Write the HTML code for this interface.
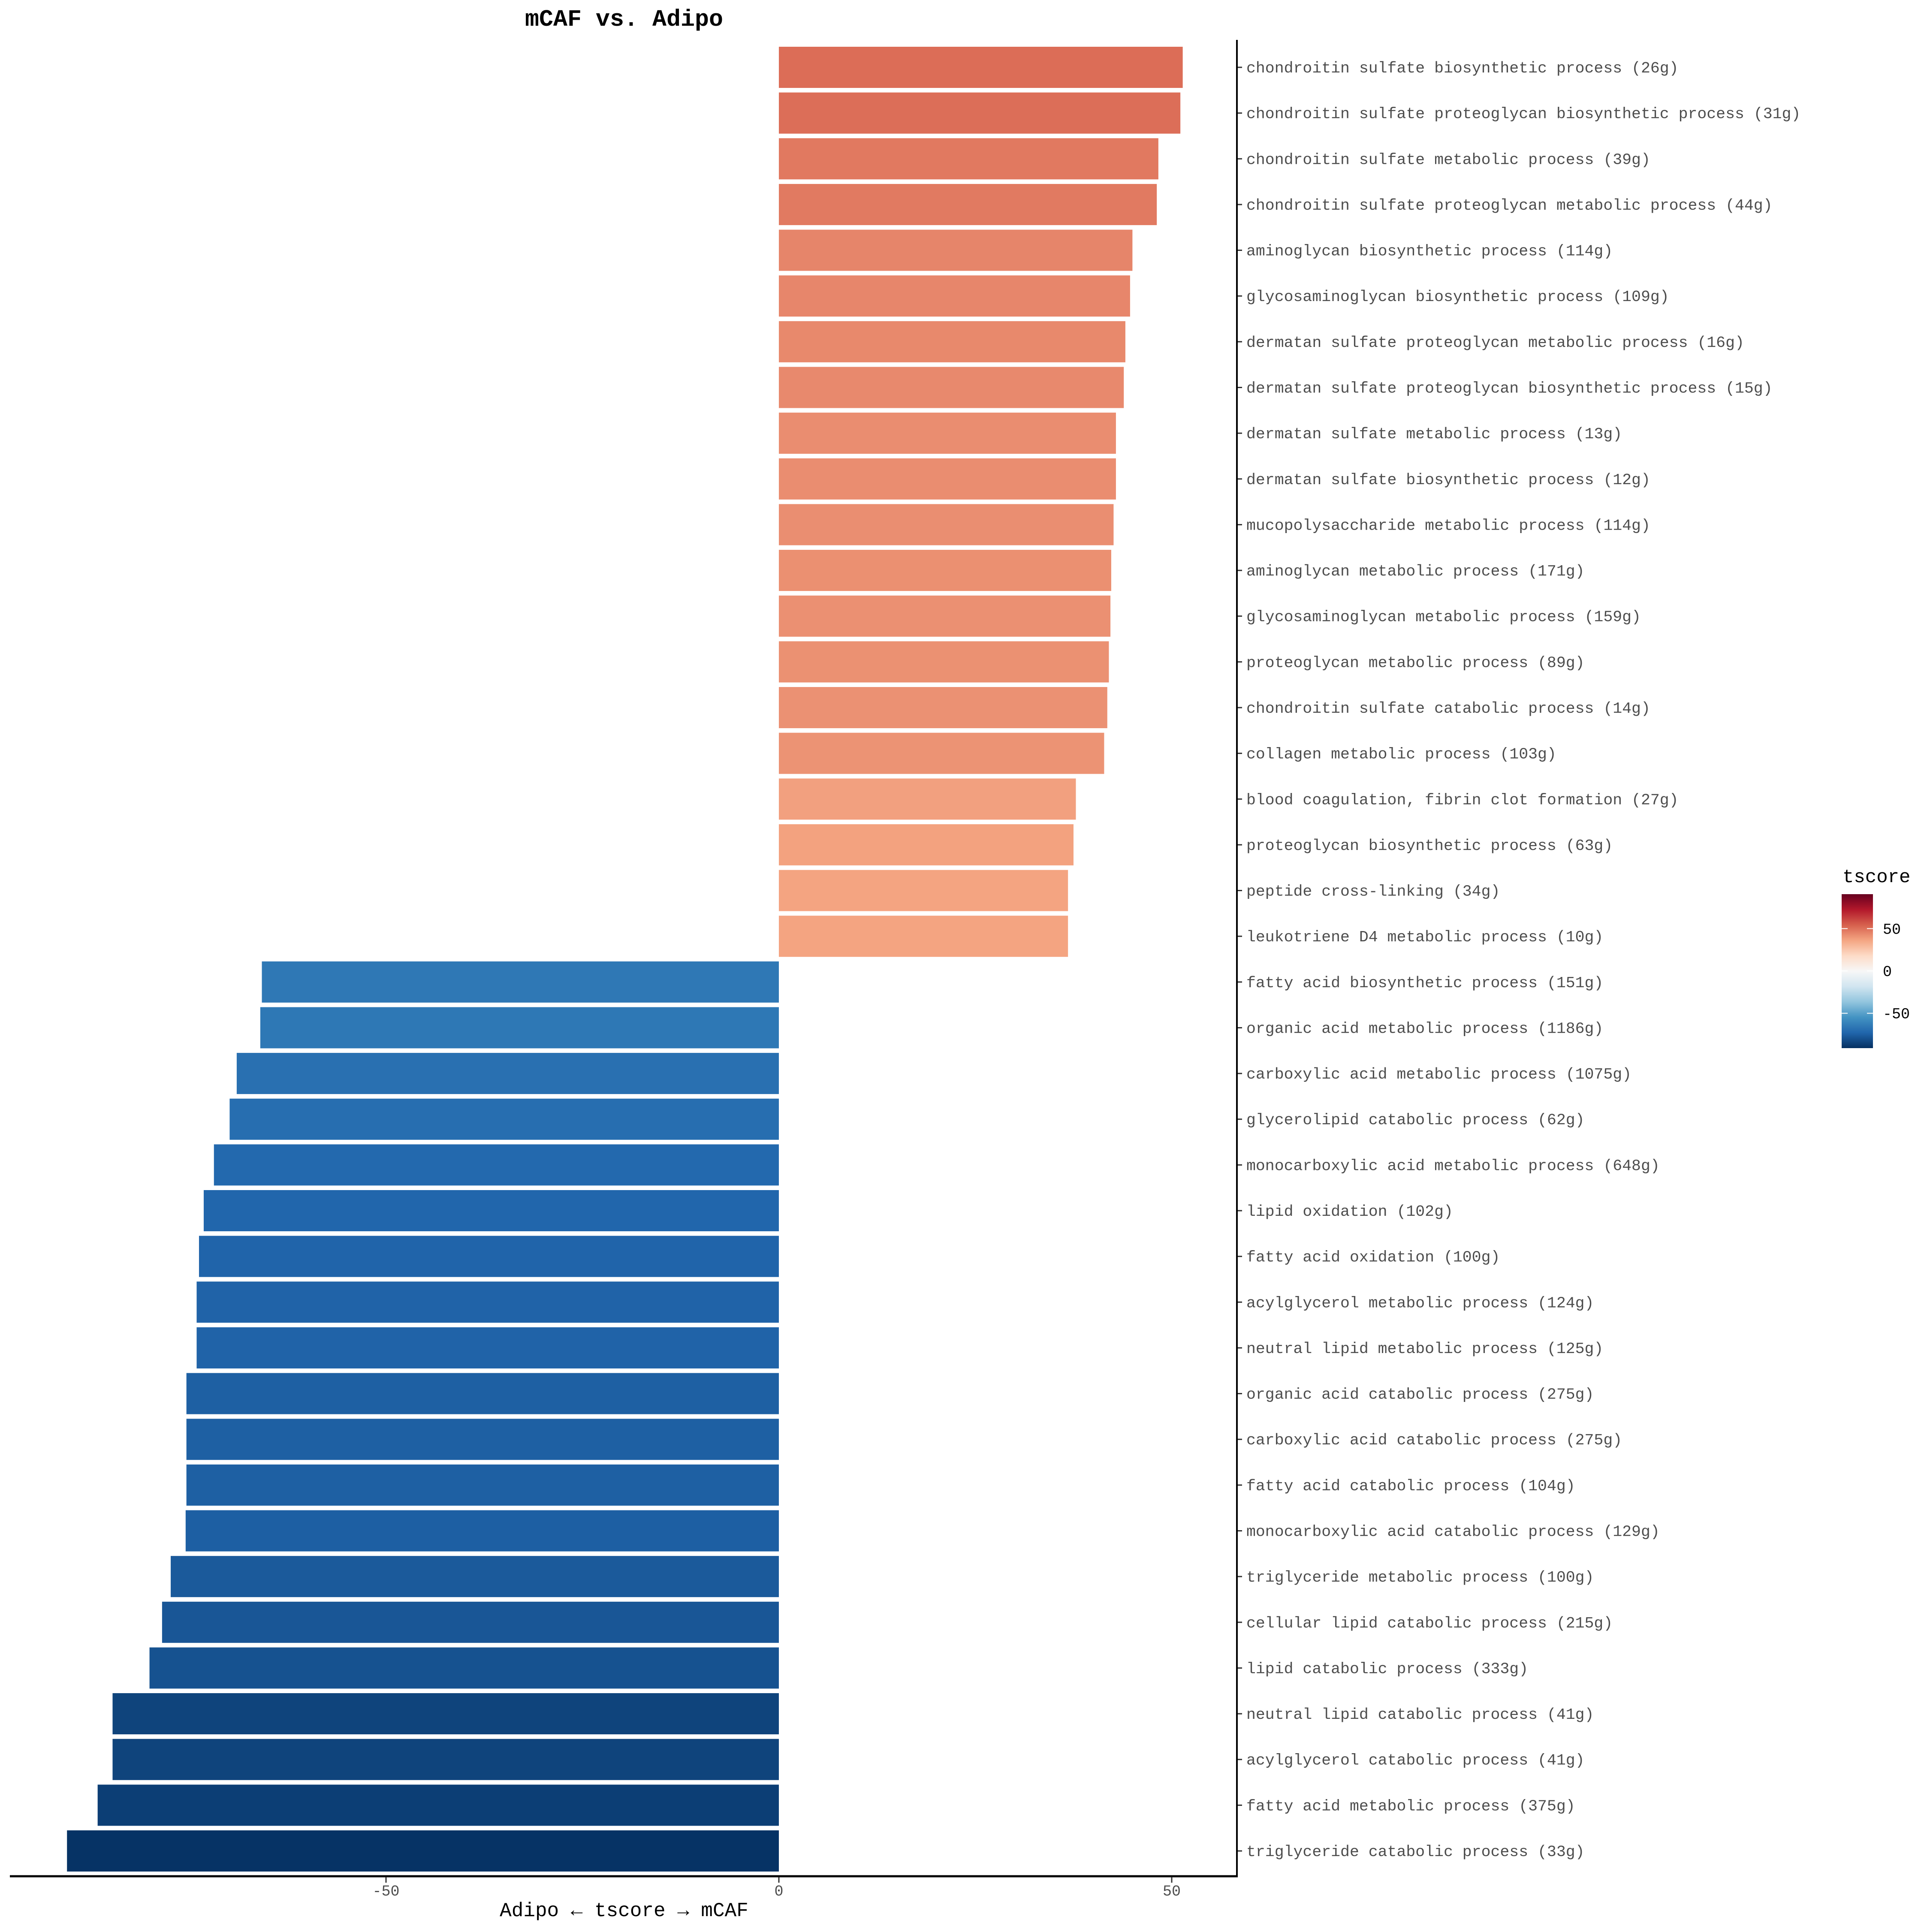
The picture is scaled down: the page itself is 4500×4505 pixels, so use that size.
<!DOCTYPE html>
<html><head><meta charset="utf-8"><style>
html,body{margin:0;padding:0;background:#fff;}
svg text{font-family:"Liberation Mono","DejaVu Sans Mono",monospace;}
</style></head><body>
<svg id="chart" xmlns="http://www.w3.org/2000/svg" width="4500" height="4500" viewBox="0 0 4500 4500">
<defs>
<linearGradient id="cbar" x1="0" y1="1" x2="0" y2="0">
<stop offset="0" stop-color="#053061"/><stop offset="0.1" stop-color="#2166AC"/><stop offset="0.2" stop-color="#4393C3"/><stop offset="0.3" stop-color="#92C5DE"/><stop offset="0.4" stop-color="#D1E5F0"/><stop offset="0.5" stop-color="#F7F7F7"/><stop offset="0.6" stop-color="#FDDBC7"/><stop offset="0.7" stop-color="#F4A582"/><stop offset="0.8" stop-color="#D6604D"/><stop offset="0.9" stop-color="#B2182B"/><stop offset="1" stop-color="#67001F"/>
</linearGradient>
</defs>
<text x="1455" y="60" font-size="55" font-weight="bold" text-anchor="middle" fill="#000">mCAF vs. Adipo</text>
<g id="bars"></g>
<g id="ylabels"></g>
<line x1="2884" y1="93" x2="2884" y2="4377" stroke="#000" stroke-width="4"/>
<line x1="23" y1="4375" x2="2886" y2="4375" stroke="#000" stroke-width="5"/>
<g id="xticks"></g>
<text x="1455" y="4468" font-size="46" text-anchor="middle" fill="#000">Adipo ← tscore → mCAF</text>
<g transform="translate(5,0)">
<text x="4291" y="2057" font-size="44" fill="#000">tscore</text>
<rect x="4289" y="2085" width="73" height="359" fill="url(#cbar)"/>
<g id="legticks"></g>
</g>
</svg>
<script>
const categories = [
"chondroitin sulfate biosynthetic process (26g)",
"chondroitin sulfate proteoglycan biosynthetic process (31g)",
"chondroitin sulfate metabolic process (39g)",
"chondroitin sulfate proteoglycan metabolic process (44g)",
"aminoglycan biosynthetic process (114g)",
"glycosaminoglycan biosynthetic process (109g)",
"dermatan sulfate proteoglycan metabolic process (16g)",
"dermatan sulfate proteoglycan biosynthetic process (15g)",
"dermatan sulfate metabolic process (13g)",
"dermatan sulfate biosynthetic process (12g)",
"mucopolysaccharide metabolic process (114g)",
"aminoglycan metabolic process (171g)",
"glycosaminoglycan metabolic process (159g)",
"proteoglycan metabolic process (89g)",
"chondroitin sulfate catabolic process (14g)",
"collagen metabolic process (103g)",
"blood coagulation, fibrin clot formation (27g)",
"proteoglycan biosynthetic process (63g)",
"peptide cross-linking (34g)",
"leukotriene D4 metabolic process (10g)",
"fatty acid biosynthetic process (151g)",
"organic acid metabolic process (1186g)",
"carboxylic acid metabolic process (1075g)",
"glycerolipid catabolic process (62g)",
"monocarboxylic acid metabolic process (648g)",
"lipid oxidation (102g)",
"fatty acid oxidation (100g)",
"acylglycerol metabolic process (124g)",
"neutral lipid metabolic process (125g)",
"organic acid catabolic process (275g)",
"carboxylic acid catabolic process (275g)",
"fatty acid catabolic process (104g)",
"monocarboxylic acid catabolic process (129g)",
"triglyceride metabolic process (100g)",
"cellular lipid catabolic process (215g)",
"lipid catabolic process (333g)",
"neutral lipid catabolic process (41g)",
"acylglycerol catabolic process (41g)",
"fatty acid metabolic process (375g)",
"triglyceride catabolic process (33g)"
];
const tscores = [51.4,51.1,48.3,48.1,45.0,44.7,44.1,43.9,42.9,42.9,42.6,42.3,42.2,42.0,41.8,41.4,37.8,37.5,36.8,36.8,
-65.8,-66.0,-69.0,-69.9,-71.9,-73.2,-73.8,-74.1,-74.1,-75.4,-75.4,-75.4,-75.5,-77.4,-78.5,-80.1,-84.8,-84.8,-86.7,-90.6];
const xTicks = [-50,0,50];
const legendTicks = [50,0,-50];
const colorLimit = 91.5;

const NS="http://www.w3.org/2000/svg";
const x0=1816, xk=916/50;
function xScale(v){return x0+v*xk;}
const n=categories.length;
const barH=96;
const pal=["#053061","#2166AC","#4393C3","#92C5DE","#D1E5F0","#F7F7F7","#FDDBC7","#F4A582","#D6604D","#B2182B","#67001F"];
function hex(h){return [1,3,5].map(k=>parseInt(h.substr(k,2),16));}
function colorFor(v){
  let t=(v/colorLimit+1)/2*10; t=Math.max(0,Math.min(10,t));
  const i=Math.min(9,Math.floor(t)), f=t-i;
  const a=hex(pal[i]), b=hex(pal[i+1]);
  return "rgb("+a.map((c,k)=>Math.round(c+(b[k]-c)*f)).join(",")+")";
}
const gb=document.getElementById("bars"), gl=document.getElementById("ylabels");
const yc=i=>157+i*((4316-157)/(n-1));
categories.forEach((c,i)=>{
  const v=tscores[i];
  const r=document.createElementNS(NS,"rect");
  r.setAttribute("x",Math.min(xScale(0),xScale(v)));
  r.setAttribute("y",yc(i)-barH/2);
  r.setAttribute("width",Math.abs(xScale(v)-xScale(0)));
  r.setAttribute("height",barH);
  r.setAttribute("fill",colorFor(v));
  
  
  gb.appendChild(r);
  const tk=document.createElementNS(NS,"line");
  tk.setAttribute("x1",2884);tk.setAttribute("x2",2896);
  tk.setAttribute("y1",yc(i));tk.setAttribute("y2",yc(i));
  tk.setAttribute("stroke","#333");tk.setAttribute("stroke-width",3);
  
  
  gl.appendChild(tk);
  const t=document.createElementNS(NS,"text");
  t.setAttribute("x",2906);t.setAttribute("y",yc(i)+12);
  t.setAttribute("font-size",36.5);t.setAttribute("fill","#4d4d4d");
  t.textContent=c;
  
  
  gl.appendChild(t);
});
const gx=document.getElementById("xticks");
xTicks.forEach(v=>{
  const l=document.createElementNS(NS,"line");
  l.setAttribute("x1",xScale(v));l.setAttribute("x2",xScale(v));
  l.setAttribute("y1",4377);l.setAttribute("y2",4390);
  l.setAttribute("stroke","#333");l.setAttribute("stroke-width",3);
  
  
  gx.appendChild(l);
  const t=document.createElementNS(NS,"text");
  t.setAttribute("x",xScale(v));t.setAttribute("y",4420);
  t.setAttribute("font-size",35);t.setAttribute("fill","#4d4d4d");
  t.setAttribute("text-anchor","middle");
  t.textContent=String(v);
  
  
  gx.appendChild(t);
});
const gt=document.getElementById("legticks");
const ly=v=>2264-v*(98.7/50);
legendTicks.forEach(v=>{
  [[4289,4303],[4348,4362]].forEach(p=>{
    const l=document.createElementNS(NS,"line");
    l.setAttribute("x1",p[0]);l.setAttribute("x2",p[1]);
    l.setAttribute("y1",ly(v));l.setAttribute("y2",ly(v));
    l.setAttribute("stroke","#fff");l.setAttribute("stroke-width",2);
    
    
    gt.appendChild(l);
  });
  const t=document.createElementNS(NS,"text");
  t.setAttribute("x",4385);t.setAttribute("y",ly(v)+12);
  t.setAttribute("font-size",35);t.setAttribute("fill","#000");
  t.textContent=String(v);
  
  
  gt.appendChild(t);
});
</script>
</body></html>
